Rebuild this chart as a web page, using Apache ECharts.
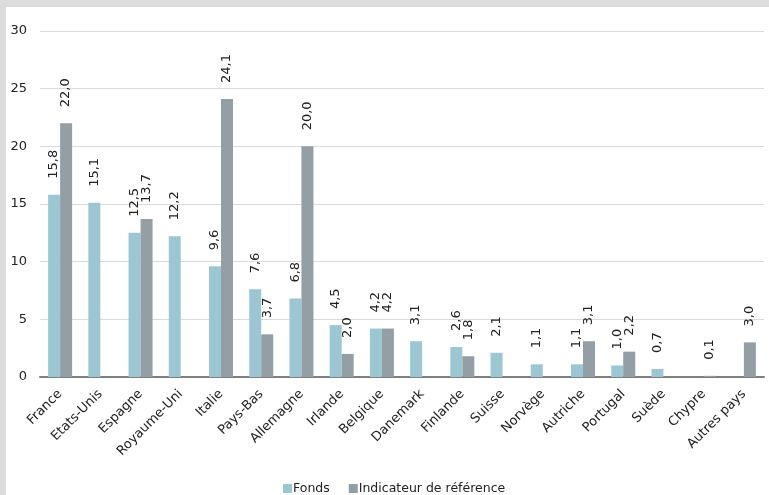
<!DOCTYPE html>
<html>
<head>
<meta charset="utf-8">
<script src="https://cdn.jsdelivr.net/npm/echarts@6/dist/echarts.min.js"></script>
<style>
  html, body { margin: 0; padding: 0; background: #dcdcdc; }
  #frame { position: absolute; left: 6px; top: 7px; width: 763px; height: 488px; background: #fff; }
  #chart { position: absolute; left: 0; top: 0; width: 769px; height: 495px; }
</style>
</head>
<body>
<div id="frame"></div>
<div id="chart"></div>
<script>
const categories = ['France', 'Etats-Unis', 'Espagne', 'Royaume-Uni', 'Italie', 'Pays-Bas', 'Allemagne', 'Irlande', 'Belgique', 'Danemark', 'Finlande', 'Suisse', 'Norvège', 'Autriche', 'Portugal', 'Suède', 'Chypre', 'Autres pays'];
const fonds = [15.8, 15.1, 12.5, 12.2, 9.6, 7.6, 6.8, 4.5, 4.2, 3.1, 2.6, 2.1, 1.1, 1.1, 1.0, 0.7, null, null];
const indicateur = [22.0, null, 13.7, null, 24.1, 3.7, 20.0, 2.0, 4.2, null, 1.8, null, null, 3.1, 2.2, null, 0.1, 3.0];
const yTicks = { min: 0, max: 30, interval: 5 };

const FONT = '"DejaVu Sans", Verdana, sans-serif';
const fmt = p => p.value == null ? '' : p.value.toFixed(1).replace('.', ',');
const valueLabel = {
  show: true, position: 'top', rotate: 90, align: 'left', verticalAlign: 'middle',
  distance: 16, fontFamily: FONT, fontSize: 13, color: '#222', formatter: fmt
};

const chart = echarts.init(document.getElementById('chart'), null, { renderer: 'canvas' });
chart.setOption({
  backgroundColor: 'transparent',
  animation: false,
  textStyle: { fontFamily: FONT },
  grid: { left: 40, right: 5, top: 31, bottom: 118, containLabel: false },
  legend: {
    top: 482, left: 283, padding: 0, itemWidth: 9, itemHeight: 9, itemGap: 19,
    icon: 'rect',
    textStyle: { fontFamily: FONT, fontSize: 12.5, color: '#222', padding: [0, 0, 0, -4] },
    data: ['Fonds', 'Indicateur de référence']
  },
  xAxis: {
    type: 'category', data: categories,
    axisLine: { lineStyle: { color: '#7f7f7f', width: 2 } },
    axisTick: { show: false },
    axisLabel: { rotate: 45, interval: 0, fontFamily: FONT, fontSize: 13, color: '#222', margin: 15 }
  },
  yAxis: {
    type: 'value', min: yTicks.min, max: yTicks.max, interval: yTicks.interval,
    axisLine: { show: false }, axisTick: { show: false },
    axisLabel: { fontFamily: FONT, fontSize: 13, color: '#222', margin: 13 },
    splitLine: { lineStyle: { color: '#dadada', width: 1 } }
  },
  series: [
    { name: 'Fonds', type: 'bar', data: fonds, barWidth: 12, barGap: '0%',
      itemStyle: { color: '#9cc6d2' }, label: valueLabel },
    { name: 'Indicateur de référence', type: 'bar', data: indicateur, barWidth: 12, barGap: '0%',
      itemStyle: { color: '#939fa4' }, label: valueLabel }
  ]
});
</script>
</body>
</html>
